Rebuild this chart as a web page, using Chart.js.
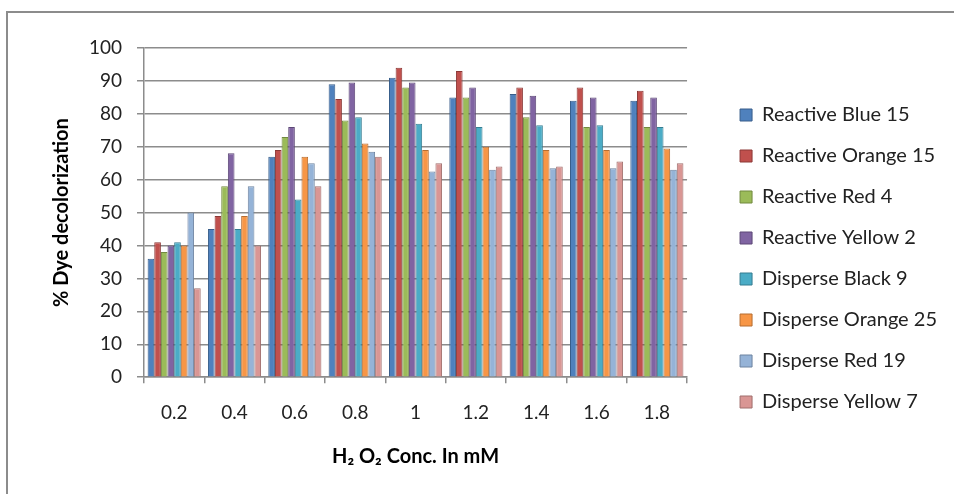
<!DOCTYPE html>
<html>
<head>
<meta charset="utf-8">
<script src="https://cdn.jsdelivr.net/npm/chart.js@4.4.1/dist/chart.umd.min.js"></script>
<style>
  html, body { margin: 0; padding: 0; background: #fff; }
  #wrap { position: relative; width: 954px; height: 494px; overflow: hidden; }
  #frame { position: absolute; left: 6px; top: 11px; width: 1000px; height: 600px; border: 2px solid #8c8c8c; box-sizing: border-box; }
  #chart { position: absolute; left: 0; top: 0; }
</style>
</head>
<body>
<div id="wrap">
  <div id="frame"></div>
  <canvas id="chart" width="975" height="494"></canvas>
</div>
<script>
// Concentrations H2O2 (mM)
const concentrations = ['0.2', '0.4', '0.6', '0.8', '1', '1.2', '1.4', '1.6', '1.8'];

// % décoloration par colorant
const reactiveBlue15    = [36, 45, 67, 89, 91, 85, 86, 84, 84];
const reactiveOrange15  = [41, 49, 69, 84.5, 94, 93, 88, 88, 87];
const reactiveRed4      = [38, 58, 73, 78, 88, 85, 79, 76, 76];
const reactiveYellow2   = [40, 68, 76, 89.5, 89.5, 88, 85.5, 85, 85];
const disperseBlack9    = [41, 45, 54, 79, 77, 76, 76.5, 76.5, 76];
const disperseOrange25  = [40, 49, 67, 71, 69, 70, 69, 69, 69.5];
const disperseRed19     = [50, 58, 65, 68.5, 62.5, 63, 63.5, 63.5, 63];
const disperseYellow7   = [27, 40, 58, 67, 65, 64, 64, 65.5, 65];

const seriesNames = ['Reactive Blue 15', 'Reactive Orange 15', 'Reactive Red 4', 'Reactive Yellow 2',
                     'Disperse Black 9', 'Disperse Orange 25', 'Disperse Red 19', 'Disperse Yellow 7'];
const seriesValues = [reactiveBlue15, reactiveOrange15, reactiveRed4, reactiveYellow2,
                      disperseBlack9, disperseOrange25, disperseRed19, disperseYellow7];
const fillColors = ['#4f81bd', '#c0504d', '#9bbb59', '#8064a2', '#4bacc6', '#f79646', '#95b3d7', '#d99694'];
const edgeColors = ['#385d8a', '#8c3836', '#71893f', '#5c4776', '#357d91', '#b66d31', '#6d83a0', '#a06e6c'];

const yTicks = [0, 10, 20, 30, 40, 50, 60, 70, 80, 90, 100];

const fontFamily = 'Lato, "Liberation Sans", sans-serif';
const gridColor = '#8c8c8c';

document.addEventListener('DOMContentLoaded', function() {
    const ctx = document.getElementById('chart');

    const datasets = seriesNames.map(function(name, i) {
        return {
            label: name,
            data: seriesValues[i],
            backgroundColor: fillColors[i],
            borderColor: edgeColors[i],
            borderWidth: 1,
            categoryPercentage: 0.88,
            barPercentage: 1.0
        };
    });

    new Chart(ctx, {
        type: 'bar',
        data: { labels: concentrations, datasets: datasets },
        options: {
            responsive: false,
            animation: false,
            layout: { padding: { top: 48, bottom: 25, left: 46, right: 28 } },
            plugins: {
                tooltip: { enabled: false },
                legend: {
                    position: 'right',
                    maxWidth: 320,
                    labels: {
                        boxWidth: 12,
                        boxHeight: 12,
                        padding: 21,
                        color: '#222',
                        font: { family: fontFamily, size: 20 }
                    }
                }
            },
            scales: {
                x: {
                    grid: {
                        offset: true,
                        drawOnChartArea: false,
                        color: gridColor,
                        lineWidth: 1.5,
                        tickLength: 6
                    },
                    border: { color: gridColor, width: 1.5 },
                    ticks: {
                        color: '#222',
                        padding: 18,
                        font: { family: fontFamily, size: 19 }
                    },
                    title: {
                        display: true,
                        text: 'H\u2082 O\u2082 Conc. In mM',
                        color: '#000',
                        padding: { top: 3, bottom: 0 },
                        font: { family: fontFamily, size: 20, weight: 'bold' }
                    }
                },
                y: {
                    min: 0,
                    max: 100,
                    afterBuildTicks: function(scale) {
                        scale.ticks = yTicks.map(function(v) { return { value: v }; });
                    },
                    afterFit: function(scale) {
                        scale.width = 98;
                    },
                    grid: {
                        color: gridColor,
                        lineWidth: 1.5,
                        tickLength: 7
                    },
                    border: { color: gridColor, width: 1.5 },
                    ticks: {
                        color: '#222',
                        padding: 15,
                        font: { family: fontFamily, size: 19 }
                    },
                    title: {
                        display: true,
                        text: '% Dye decolorization',
                        color: '#000',
                        padding: { top: 4, bottom: 4 },
                        font: { family: fontFamily, size: 20, weight: 'bold' }
                    }
                },
                // espace vide entre la zone du graphique et la légende
                gap: {
                    type: 'linear',
                    position: 'right',
                    display: true,
                    grid: { display: false },
                    border: { display: false },
                    ticks: { display: false },
                    afterFit: function(scale) {
                        scale.width = 32;
                    }
                }
            }
        }
    });
});
</script>
</body>
</html>
